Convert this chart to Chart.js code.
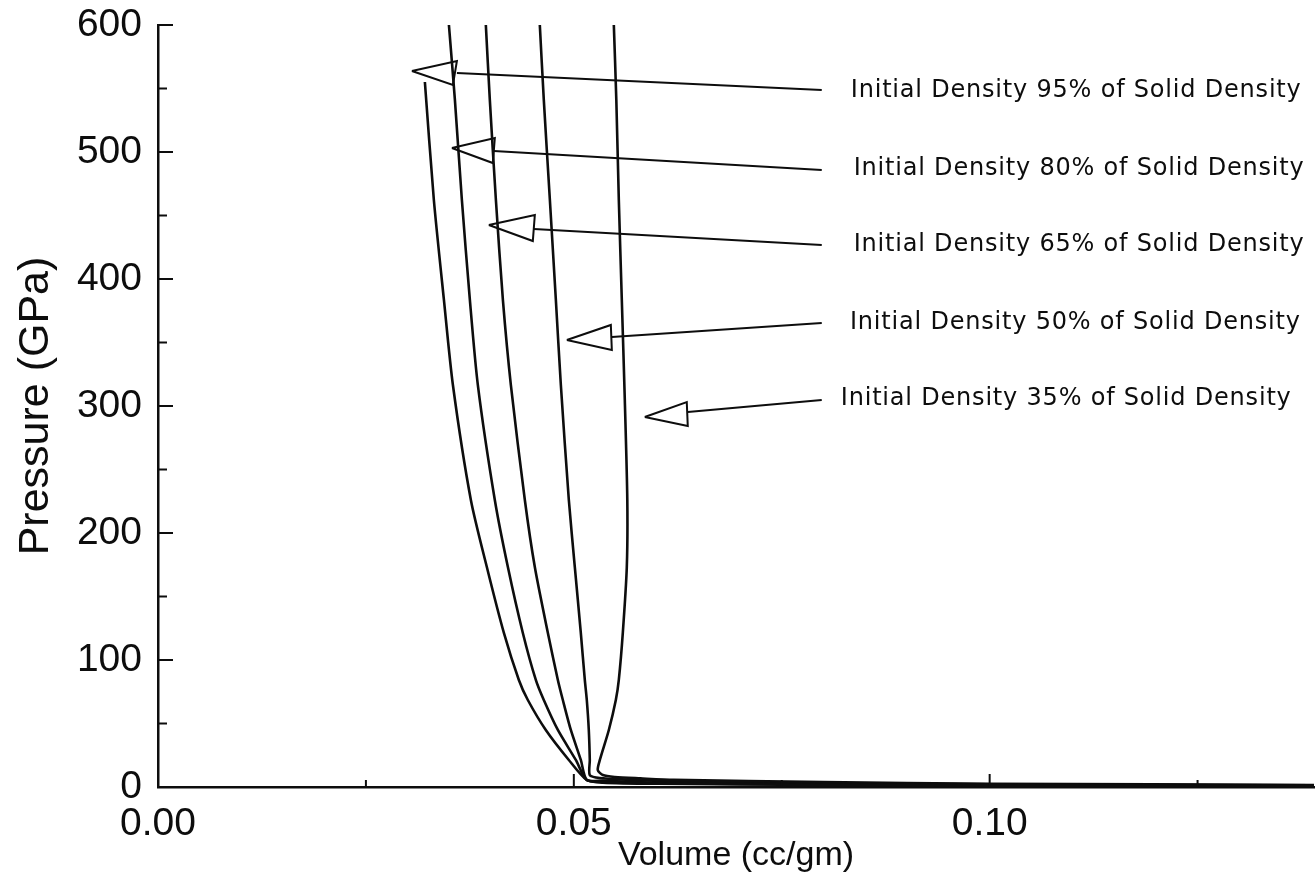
<!DOCTYPE html>
<html>
<head>
<meta charset="utf-8">
<title>Pressure vs Volume</title>
<script src="https://cdn.jsdelivr.net/npm/chart.js@4.4.1/dist/chart.umd.min.js"></script>
<style>
  html, body { margin: 0; padding: 0; background: #fff; }
  #wrap { width: 1315px; height: 894px; }
</style>
</head>
<body>
<div id="wrap"><canvas id="c" width="1315" height="894"></canvas></div>
<script>
// Hugoniot curves, pressure (GPa) vs specific volume (cc/gm)
const vol95 = [0.03209,0.03317,0.03438,0.03546,0.03762,0.03954,0.04159,0.04339,0.04447,0.04663,0.04940,0.05156,0.0535,0.060,0.080,0.100,0.139];
const pres95 = [555.1,462.2,383.5,316.5,226.0,173.2,121.3,84.3,68.5,44.9,21.3,5.5,3.4,2.5,1.6,1.1,0.5];

const vol80 = [0.03498,0.03570,0.03654,0.03750,0.03846,0.04050,0.04207,0.04387,0.04543,0.04639,0.04808,0.05024,0.05156,0.0535,0.060,0.080,0.100,0.139];
const pres80 = [600,541.0,462.2,383.5,316.5,226.0,173.2,121.3,84.3,68.5,44.9,21.3,5.5,4.2,3.0,2.0,1.4,0.8];

const vol65 = [0.03942,0.03990,0.04063,0.04147,0.04243,0.04411,0.04531,0.04688,0.04808,0.04868,0.04964,0.05084,0.05156,0.0535,0.060,0.080,0.100,0.139];
const pres65 = [600,541.0,462.2,383.5,316.5,226.0,173.2,121.3,84.3,68.5,44.9,21.3,5.5,5.0,3.5,2.3,1.7,1.0];

const vol50 = [0.04591,0.04639,0.04712,0.04784,0.04844,0.04940,0.05012,0.05084,0.05132,0.05156,0.05180,0.05192,0.05192,0.05313,0.0565,0.060,0.080,0.100,0.139];
const pres50 = [600,541.0,462.2,383.5,316.5,226.0,173.2,121.3,84.3,68.5,44.9,21.3,9.4,7.1,5.8,4.8,3.1,2.2,1.3];

const vol35 = [0.05481,0.05511,0.05541,0.05577,0.05613,0.05643,0.05637,0.05589,0.05541,0.05505,0.05421,0.05313,0.05288,0.05349,0.05493,0.058,0.062,0.080,0.100,0.139];
const pres35 = [600,541.0,462.2,383.5,304.7,226.0,173.2,121.3,84.3,68.5,44.9,21.3,13.4,9.4,7.9,6.8,5.6,3.8,2.6,1.6];

// annotation arrows: triangle tip, base top, base bottom, leader start, leader end (V, P)
const arrowTipV  = [0.03053,0.03534,0.03978,0.04916,0.05853];
const arrowTipP  = [563.8,503.1,442.5,352.0,291.3];
const arrowTopV  = [0.03594,0.04050,0.04531,0.05445,0.06358];
const arrowTopP  = [571.7,511.0,450.4,363.8,303.1];
const arrowBotV  = [0.03546,0.04026,0.04507,0.05457,0.06370];
const arrowBotP  = [552.8,491.3,429.9,344.1,284.3];
const leadStartV = [0.03594,0.04038,0.04519,0.05457,0.06370];
const leadStartP = [562.2,500.8,439.4,354.3,295.3];
const leadEndV   = [0.07981,0.07981,0.07981,0.07981,0.07981];
const leadEndP   = [548.8,485.8,426.8,365.4,304.7];

const noteText = [
  "Initial Density 95% of Solid Density",
  "Initial Density 80% of Solid Density",
  "Initial Density 65% of Solid Density",
  "Initial Density 50% of Solid Density",
  "Initial Density 35% of Solid Density",
];
const noteV = [0.0833,0.08365,0.08365,0.0832,0.0821];
const noteP = [548,486.6,426.8,365.4,305.5];

const INK = "#0d0d0d";
const zip = (xs, ys) => xs.map((v, i) => ({x: v, y: ys[i]}));

function curve(xs, ys) {
  return {data: zip(xs, ys), borderColor: INK, borderWidth: 2.6, pointRadius: 0, tension: 0.25, fill: false};
}
function seg(pts) {
  return {data: pts, borderColor: INK, borderWidth: 2, pointRadius: 0, tension: 0, fill: false};
}

const datasets = [
  curve(vol95, pres95), curve(vol80, pres80), curve(vol65, pres65),
  curve(vol50, pres50), curve(vol35, pres35),
];
arrowTipV.forEach((_, i) => {
  datasets.push(seg([
    {x: arrowTipV[i], y: arrowTipP[i]}, {x: arrowTopV[i], y: arrowTopP[i]},
    {x: arrowBotV[i], y: arrowBotP[i]}, {x: arrowTipV[i], y: arrowTipP[i]},
  ]));
  datasets.push(seg([{x: leadStartV[i], y: leadStartP[i]}, {x: leadEndV[i], y: leadEndP[i]}]));
});

// ticks on this plot point into the data area
const inwardTicks = {
  id: "inwardTicks",
  afterDatasetsDraw(chart) {
    const {ctx, chartArea: a, scales: {x, y}} = chart;
    ctx.save();
    ctx.strokeStyle = INK;
    ctx.lineWidth = 2;
    x.ticks.forEach(t => {
      if (t.value === 0) return;
      const px = x.getPixelForValue(t.value);
      ctx.beginPath(); ctx.moveTo(px, a.bottom); ctx.lineTo(px, a.bottom - (t.label ? 13 : 7)); ctx.stroke();
    });
    y.ticks.forEach(t => {
      if (t.value === 0) return;
      const py = y.getPixelForValue(t.value);
      ctx.beginPath(); ctx.moveTo(a.left, py); ctx.lineTo(a.left + (t.label ? 15 : 9), py); ctx.stroke();
    });
    ctx.restore();
  }
};

const notes = {
  id: "notes",
  afterDatasetsDraw(chart) {
    const {ctx, scales: {x, y}} = chart;
    ctx.save();
    ctx.font = '24px "DejaVu Sans"';
    ctx.letterSpacing = "0.8px";
    ctx.fillStyle = INK;
    ctx.textBaseline = "middle";
    noteText.forEach((t, i) => ctx.fillText(t, x.getPixelForValue(noteV[i]), y.getPixelForValue(noteP[i])));
    ctx.restore();
  }
};

const isMult = (v, step) => Math.abs(v / step - Math.round(v / step)) < 1e-6;

new Chart(document.getElementById("c"), {
  type: "line",
  data: {datasets},
  plugins: [inwardTicks, notes],
  options: {
    responsive: false, animation: false,
    layout: {padding: {top: 25, right: 1, bottom: 0, left: 0}},
    plugins: {legend: {display: false}, tooltip: {enabled: false}},
    scales: {
      x: {
        type: "linear", min: 0, max: 0.139,
        afterFit: s => { s.height = 107; s.paddingLeft = 0; s.paddingRight = 0; },
        grid: {display: false, drawTicks: false},
        border: {display: true, color: INK, width: 2.5},
        ticks: {stepSize: 0.025, includeBounds: false, autoSkip: false, maxRotation: 0, padding: 14,
          color: INK, font: {family: "Liberation Sans", size: 39},
          callback: v => isMult(v, 0.05) ? v.toFixed(2) : ""},
        title: {display: true, text: "Volume (cc/gm)", color: INK,
          font: {family: "Liberation Sans", size: 34}, padding: {top: 0, bottom: 18}},
      },
      y: {
        type: "linear", min: 0, max: 600,
        afterFit: s => { s.width = 158; s.paddingTop = 0; s.paddingBottom = 0; },
        grid: {display: false, drawTicks: false},
        border: {display: true, color: INK, width: 2.5},
        ticks: {stepSize: 50, autoSkip: false, padding: 16,
          color: INK, font: {family: "Liberation Sans", size: 39},
          callback: v => isMult(v, 100) ? String(v) : ""},
        title: {display: true, text: "Pressure (GPa)", color: INK,
          font: {family: "Liberation Sans", size: 43}, padding: {top: 10, bottom: 0}},
      },
    },
  },
});
</script>
</body>
</html>
